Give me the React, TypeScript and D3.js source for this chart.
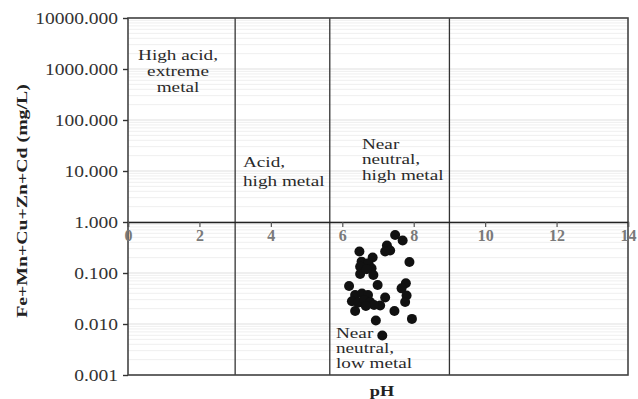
import * as d3 from "d3";
import { useRef, useEffect } from "react";

// pH and total metal concentration (mg/L) of each sample
const phValues = [
  7.48, 7.69, 7.25, 7.34, 7.2, 6.48, 6.85, 7.88, 6.54, 6.73, 6.5, 6.82, 6.5, 6.87,
  6.19, 6.99, 7.78, 7.66, 7.8, 7.76, 7.2, 7.06, 6.36, 7.46, 6.94, 7.95, 7.12, 6.36,
  6.55, 6.72, 6.27, 6.44, 6.61, 6.78, 6.89, 6.66, 6.68,
];
const metalValues = [
  0.556, 0.434, 0.346, 0.276, 0.264, 0.264, 0.201, 0.164, 0.167, 0.155, 0.133, 0.124,
  0.0956, 0.0913, 0.0556, 0.0582, 0.063, 0.05, 0.0362, 0.027, 0.033, 0.023, 0.018,
  0.018, 0.0117, 0.0126, 0.00596, 0.037, 0.0396, 0.037, 0.028, 0.026, 0.0295, 0.027,
  0.0236, 0.0225, 0.118,
];

const xTicks = [0, 2, 4, 6, 8, 10, 12, 14];
const yTicks = [0.001, 0.01, 0.1, 1, 10, 100, 1000, 10000];
const phBoundaries = [3, 5.65, 9];

const labelHighAcid = ["High acid,", "extreme", "metal"];
const labelAcid = ["Acid,", "high metal"];
const labelNeutralHigh = ["Near", "neutral,", "high metal"];
const labelNeutralLow = ["Near", "neutral,", "low metal"];
const xTitle = "pH";
const yTitle = "Fe+Mn+Cu+Zn+Cd  (mg/L)";

const W = 638;
const H = 399;
const FONT = "'Liberation Serif', 'Times New Roman', serif";
const WIDE = 1.22; // the original font runs wider than Times

const App = () => {
  const ref = useRef<SVGSVGElement>(null);

  useEffect(() => {
    if (!ref.current) return;
    const svg = d3.select(ref.current);
    svg.selectAll("*").remove();

    const margin = { top: 18, right: 10, bottom: 24, left: 128 };
    const x = d3.scaleLinear().domain([0, 14]).range([margin.left, W - margin.right]);
    const y = d3.scaleLog().domain([0.001, 10000]).range([H - margin.bottom, margin.top]);

    // light log grid
    const minor: number[] = [];
    for (let e = -3; e < 4; e++) for (let k = 2; k < 10; k++) minor.push(k * 10 ** e);
    svg.append("g")
      .selectAll("line")
      .data(minor)
      .join("line")
      .attr("x1", x(0)).attr("x2", x(14))
      .attr("y1", d => y(d)).attr("y2", d => y(d))
      .attr("stroke", "#efefef").attr("stroke-width", 1);
    svg.append("g")
      .selectAll("line")
      .data(yTicks)
      .join("line")
      .attr("x1", x(0)).attr("x2", x(14))
      .attr("y1", d => y(d)).attr("y2", d => y(d))
      .attr("stroke", "#e0e0e0").attr("stroke-width", 1.2);

    // pH boundaries
    svg.append("g")
      .selectAll("line")
      .data(phBoundaries)
      .join("line")
      .attr("x1", d => x(d)).attr("x2", d => x(d))
      .attr("y1", y(10000)).attr("y2", y(0.001))
      .attr("stroke", "#333").attr("stroke-width", 1.3);

    // frame
    svg.append("rect")
      .attr("x", x(0)).attr("y", y(10000))
      .attr("width", x(14) - x(0)).attr("height", y(0.001) - y(10000))
      .attr("fill", "none").attr("stroke", "#444").attr("stroke-width", 1.6);

    // y axis
    const yAxis = d3.axisLeft(y).tickValues(yTicks).tickSize(5).tickFormat(d3.format(".3f"));
    const gy = svg.append("g").attr("transform", `translate(${x(0)},0)`).call(yAxis);
    gy.select(".domain").remove();
    gy.selectAll("line").attr("stroke", "#333").attr("stroke-width", 1.4);
    gy.selectAll("text")
      .attr("font-family", FONT).attr("font-size", 16).attr("fill", "#333")
      .attr("x", -10).attr("dy", "0.33em")
      .attr("transform", `translate(-10,0) scale(${WIDE},1) translate(10,0)`);

    // x axis drawn through 1 mg/L
    const xAxis = d3.axisBottom(x).tickValues(xTicks).tickSize(5).tickFormat(d3.format("d"));
    const gx = svg.append("g").attr("transform", `translate(0,${y(1)})`).call(xAxis);
    gx.select(".domain").attr("stroke", "#222").attr("stroke-width", 1.4);
    gx.selectAll("line").attr("stroke", "#555").attr("stroke-width", 1.2);
    gx.selectAll("text")
      .attr("font-family", FONT).attr("font-size", 16).attr("font-weight", "bold")
      .attr("fill", "#7a7a7a").attr("y", 19).attr("dy", 0);

    // samples
    svg.append("g")
      .selectAll("circle")
      .data(phValues.map((p, i) => [p, metalValues[i]]))
      .join("circle")
      .attr("cx", d => x(d[0]))
      .attr("cy", d => y(d[1]))
      .attr("r", 5)
      .attr("fill", "#111");

    // multi-line text helper
    const block = (lines: string[], px: number, py: number, lh: number, anchor: string) => {
      const g = svg.append("g").attr("transform", `translate(${px},${py}) scale(1.28,1)`);
      g.selectAll("text")
        .data(lines)
        .join("text")
        .attr("y", (_, i) => i * lh)
        .attr("text-anchor", anchor)
        .attr("font-family", FONT).attr("font-size", 15).attr("fill", "#2a2a2a")
        .text(d => d);
    };
    block(labelHighAcid, 178, 60, 16, "middle");
    block(labelAcid, 243, 167, 19, "start");
    block(labelNeutralHigh, 362, 149, 15.5, "start");
    block(labelNeutralLow, 336, 338, 15, "start");

    // titles
    svg.append("text")
      .attr("transform", `translate(382,396) scale(${WIDE},1)`)
      .attr("text-anchor", "middle")
      .attr("font-family", FONT).attr("font-size", 15).attr("font-weight", "bold").attr("fill", "#222")
      .text(xTitle);
    svg.append("text")
      .attr("transform", `translate(27,201) rotate(-90) scale(1.32,1)`)
      .attr("text-anchor", "middle")
      .attr("font-family", FONT).attr("font-size", 15).attr("font-weight", "bold").attr("fill", "#222")
      .text(yTitle);
  }, []);

  return (
    <svg
      ref={ref}
      width={W}
      height={H}
      style={{ position: "absolute", left: 0, top: 0, background: "#fff" }}
    ></svg>
  );
};

export default App;
